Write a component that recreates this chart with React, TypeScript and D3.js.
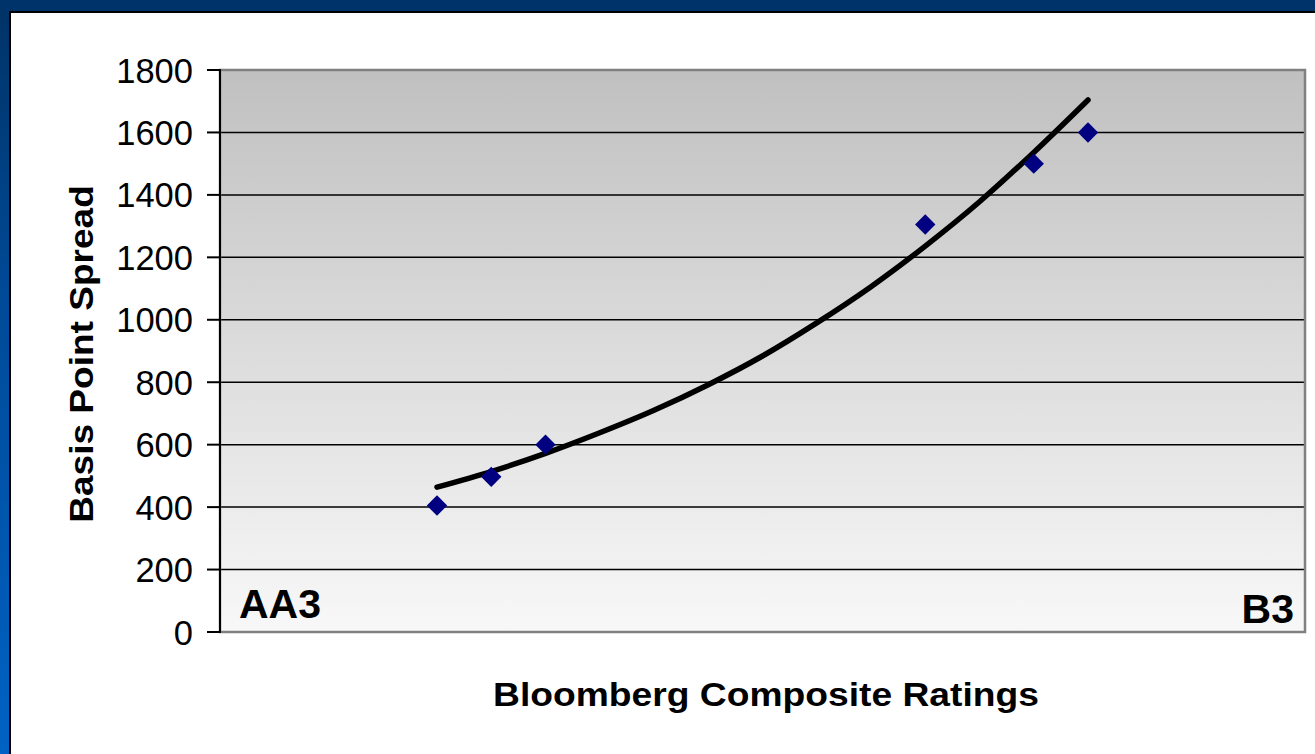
import React from "react";
import * as d3 from "d3";

const ratingPositions = [4, 5, 6, 13, 15, 16];
const spreads = [405, 497, 600, 1305, 1500, 1600];
const trendPositions = [4, 5, 6, 7, 8, 9, 10, 11, 12, 13, 14, 15, 16];
const trendValues = [464, 514, 572, 638, 710, 792, 884, 990, 1106, 1236, 1378, 1536, 1704];
const yTicks = [0, 200, 400, 600, 800, 1000, 1200, 1400, 1600, 1800];
const startLabel = "AA3";
const endLabel = "B3";
const xTitle = "Bloomberg Composite Ratings";
const yTitle = "Basis Point Spread";

const W = 1315;
const H = 754;
const plot = { left: 220, right: 1305, top: 70, bottom: 632 };
const font = "Arial, 'Liberation Sans', sans-serif";

export default function App() {
  const x = d3.scaleLinear().domain([0, 20]).range([plot.left, plot.right]);
  const y = d3.scaleLinear().domain([0, 1800]).range([plot.bottom, plot.top]);
  const line = d3
    .line<number>()
    .x((_, i) => x(trendPositions[i]))
    .y((d) => y(d))
    .curve(d3.curveMonotoneX);
  const diamond = d3.symbol().type(d3.symbolDiamond2).size(265)();

  return (
    <div style={{ position: "fixed", left: 0, top: 0 }}>
      <svg width={W} height={H} style={{ display: "block" }}>
        <defs>
          <linearGradient id="frame" x1="0" y1="0" x2="0" y2="1">
            <stop offset="0" stopColor="#003366" />
            <stop offset="0.4" stopColor="#004a98" />
            <stop offset="1" stopColor="#0062c4" />
          </linearGradient>
          <linearGradient id="plotbg" x1="0" y1="0" x2="0" y2="1">
            <stop offset="0" stopColor="#c0c0c0" />
            <stop offset="1" stopColor="#f8f8f8" />
          </linearGradient>
        </defs>
        <rect x={0} y={0} width={W} height={H} fill="url(#frame)" />
        <rect x={0} y={0} width={W} height={11} fill="#00336a" />
        <rect x={9} y={11} width={W - 9} height={H - 11} fill="#000" />
        <rect x={11} y={13} width={W - 11} height={H - 13} fill="#fff" />

        <rect
          x={plot.left}
          y={plot.top}
          width={plot.right - plot.left}
          height={plot.bottom - plot.top}
          fill="url(#plotbg)"
        />
        {yTicks
          .filter((t) => t > 0 && t < 1800)
          .map((t) => (
            <line
              key={"g" + t}
              x1={plot.left}
              x2={plot.right}
              y1={y(t)}
              y2={y(t)}
              stroke="#000"
              strokeWidth={1.5}
            />
          ))}
        <rect
          x={plot.left}
          y={plot.top}
          width={plot.right - plot.left}
          height={plot.bottom - plot.top}
          fill="none"
          stroke="#808080"
          strokeWidth={2.5}
        />
        <line x1={plot.left} x2={plot.left} y1={plot.top - 1} y2={plot.bottom + 1} stroke="#000" strokeWidth={2} />
        {yTicks.map((t) => (
          <g key={"t" + t}>
            <line x1={207} x2={plot.left} y1={y(t)} y2={y(t)} stroke="#000" strokeWidth={2} />
            <text
              x={193}
              y={y(t) + 12.5}
              textAnchor="end"
              fontFamily={font}
              fontSize={34.5}
              fill="#000"
            >
              {t}
            </text>
          </g>
        ))}

        <text x={239} y={618} fontFamily={font} fontWeight="bold" fontSize={41} fill="#000">
          {startLabel}
        </text>
        <text x={1294} y={623} textAnchor="end" fontFamily={font} fontWeight="bold" fontSize={41} fill="#000">
          {endLabel}
        </text>

        <path
          d={line(trendValues) || ""}
          fill="none"
          stroke="#000"
          strokeWidth={5.5}
          strokeLinecap="round"
          strokeLinejoin="round"
        />
        {spreads.map((v, i) => (
          <path
            key={"p" + i}
            d={diamond || ""}
            transform={`translate(${x(ratingPositions[i])},${y(v)})`}
            fill="#000080"
          />
        ))}

        <text
          transform="translate(766,706) scale(1.095,1)"
          textAnchor="middle"
          fontFamily={font}
          fontWeight="bold"
          fontSize={34}
          fill="#000"
        >
          {xTitle}
        </text>
        <text
          transform="translate(93,354) rotate(-90) scale(1.09,1)"
          textAnchor="middle"
          fontFamily={font}
          fontWeight="bold"
          fontSize={34}
          fill="#000"
        >
          {yTitle}
        </text>
      </svg>
    </div>
  );
}
